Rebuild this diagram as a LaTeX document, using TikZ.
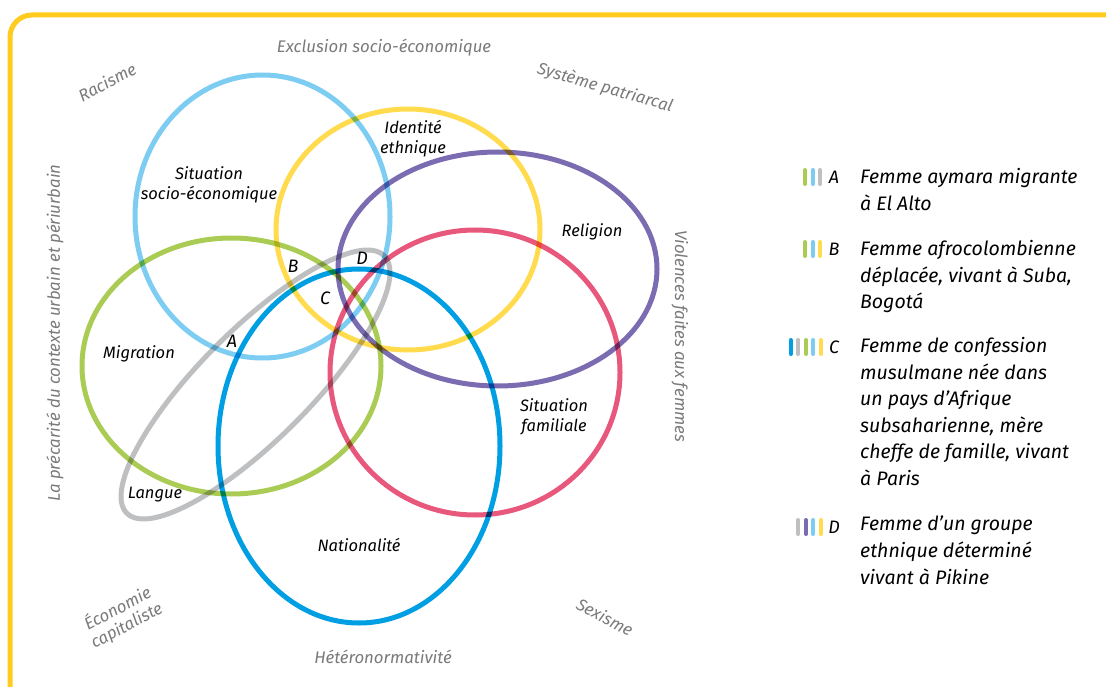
\documentclass[tikz,border=0pt]{standalone}
\usepackage{fontspec}
\setmainfont{Fira Sans}
\definecolor{cLB}{HTML}{7DCDF3}
\definecolor{cYe}{HTML}{FFDB4D}
\definecolor{cPu}{HTML}{7B6BB0}
\definecolor{cPi}{HTML}{E8577C}
\definecolor{cGr}{HTML}{AACC55}
\definecolor{cBl}{HTML}{009EE2}
\definecolor{cGy}{HTML}{BDBFC1}
\definecolor{cFrame}{HTML}{FFCB1F}
\definecolor{cCtx}{HTML}{7A7A7A}
\begin{document}
\begin{tikzpicture}[x=1pt,y=-1pt,
  ring/.style={line width=5pt},
  lab/.style={font=\fontsize{16.5}{20}\selectfont\itshape, align=center, inner sep=0pt},
  ctx/.style={font=\fontsize{16.8}{19}\selectfont\itshape, text=cCtx, align=center, inner sep=0pt},
  leg/.style={font=\fontsize{19.5}{26.6}\selectfont\itshape, align=left, anchor=north west, inner sep=0pt},
  letter/.style={font=\fontsize{18}{20}\selectfont\itshape, inner sep=0pt},
  bar/.style={line width=4pt, line cap=round}]
\useasboundingbox (0,0) rectangle (1106,687);
\clip (0,0) rectangle (1106,687);
\fill[white] (0,0) rectangle (1106,687);
\draw[cFrame, line width=5pt, rounded corners=22pt] (10,15) rectangle (1160,720);

\begin{scope}[blend group=multiply]
\draw[ring,cLB] (262.5,216.5) ellipse [x radius=127.5pt, y radius=141.5pt];
\draw[ring,cYe] (408,229.5) ellipse [x radius=132pt, y radius=120.5pt];
\draw[ring,cPu] (497.5,269) ellipse [x radius=159.5pt, y radius=117pt];
\draw[ring,cPi] (475,372.5) ellipse [x radius=145pt, y radius=142.5pt];
\draw[ring,cGr] (231.5,366) ellipse [x radius=149.5pt, y radius=128pt];
\draw[ring,cBl] (359,446) ellipse [x radius=141pt, y radius=177pt];
\draw[ring,cGy,rotate around={45:(255.5,384.5)}] (255.5,384.5) ellipse [x radius=182pt, y radius=55pt];
\end{scope}

% circle labels
\node[lab] (socio) at (209,185) {Situation\\socio-économique};
\node[lab] (ident) at (413,139) {Identité\\ethnique};
\node[lab] (relig) at (592,232) {Religion};
\node[lab] (migr) at (139,354) {Migration};
\node[lab] (fam) at (554,417) {Situation\\familiale};
\node[lab] (nat) at (359,545) {Nationalité};
\node[lab] (lang) at (155,495) {Langue};
\node[letter] (pA) at (232,341) {A};
\node[letter] (pB) at (293,266) {B};
\node[letter] (pC) at (325,298) {C};
\node[letter] (pD) at (362,258) {D};

% context labels
\node[ctx] (excl) at (384,48) {Exclusion socio-économique};
\node[ctx,rotate=28] (rac) at (107,82) {Racisme};
\node[ctx,rotate=-16] (patr) at (605,88) {Système patriarcal};
\node[ctx,rotate=90] (prec) at (55,333) {La précarité du contexte urbain et périurbain};
\node[ctx,rotate=-90] (viol) at (680,336) {Violences faites aux femmes};
\node[ctx,rotate=28] (eco) at (122,617) {Économie\\capitaliste};
\node[ctx,rotate=-28] (sex) at (605,617) {Sexisme};
\node[ctx] (hetero) at (383,657) {Hétéronormativité};

% legend
\foreach \c/\x in {cGr/805,cLB/812.7,cGy/820.3} \draw[bar,\c] (\x,170) -- (\x,184);
\foreach \c/\x in {cGr/805,cLB/812.7,cYe/820.3} \draw[bar,\c] (\x,242) -- (\x,256);
\foreach \c/\x in {cBl/790.7,cGy/798.3,cGr/805.9,cLB/813.3,cYe/820.7} \draw[bar,\c] (\x,340) -- (\x,354);
\foreach \c/\x in {cGy/798.3,cPu/805.9,cLB/813.3,cYe/820.7} \draw[bar,\c] (\x,520) -- (\x,534);

\node[letter] (lA) at (834,177) {A};
\node[letter] (lB) at (834,249) {B};
\node[letter] (lC) at (834,347) {C};
\node[letter] (lD) at (834,527) {D};

\node[leg] (tA) at (860,168) {Femme aymara migrante\\à El Alto};
\node[leg] (tB) at (860,240) {Femme afrocolombienne\\déplacée, vivant à Suba,\\Bogotá};
\node[leg] (tC) at (860,337) {Femme de confession\\musulmane née dans\\un pays d’Afrique\\subsaharienne, mère\\cheffe de famille, vivant\\à Paris};
\node[leg] (tD) at (860,516) {Femme d’un groupe\\ethnique déterminé\\vivant à Pikine};
\end{tikzpicture}
\end{document}
